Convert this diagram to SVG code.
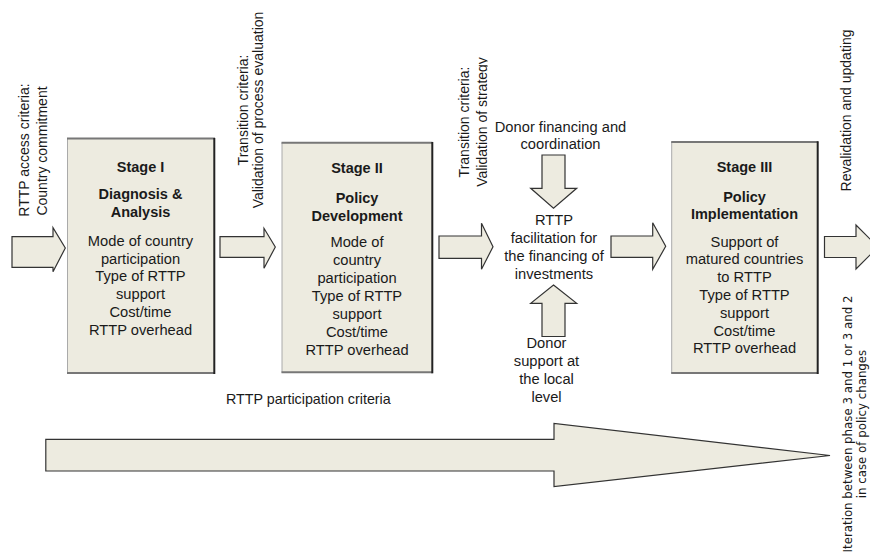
<svg xmlns="http://www.w3.org/2000/svg" width="870" height="556" viewBox="0 0 870 556">
<style>
.box{fill:#EDEBE0;stroke:none}
.bt{stroke:#777;stroke-width:2;fill:none}
.br{stroke:#222;stroke-width:2;fill:none}
.bl{stroke:#aaa;stroke-width:1;fill:none}
.arr{fill:#EDEBE0;stroke:#333;stroke-width:1.2;stroke-linejoin:miter}
text{font-family:"Liberation Sans",Arial,sans-serif;fill:#1a1a1a}
.h{font-size:14.5px;font-weight:bold;text-anchor:middle}
.b{font-size:14.7px;text-anchor:middle}
.r{font-size:14px;text-anchor:middle}
.it{font-family:"DejaVu Sans",Verdana,sans-serif;font-size:11.8px;text-anchor:middle}
</style>
<defs>
<clipPath id="clipStrat"><rect x="0" y="0" width="487.5" height="556"/></clipPath>
</defs>
<rect width="870" height="556" fill="#fff"/>

<g id="connectors">
<polygon class="arr" points="12,236.7 53,236.7 53,227.7 65.3,248 53,271.7 53,267.3 12,267.3"/>
<polygon class="arr" points="220,236.7 264,236.7 264,228.3 275.3,247 264,268.3 264,257.3 220,257.3"/>
<polygon class="arr" points="439,236 481.5,236 481.5,223.3 493,246.7 481.5,269.3 481.5,258.3 439,258.3"/>
<polygon class="arr" points="611,236 652.7,236 652.7,222.7 665.7,246.3 652.7,269.3 652.7,257.3 611,257.3"/>
<polygon class="arr" points="824.5,236.5 856,236.5 856,225 878,247 856,269 856,257.5 824.5,257.5"/>
<polygon class="arr" points="542,155 565,155 565,188.3 576.7,188.3 553.5,208.3 530.7,188.3 542,188.3"/>
<polygon class="arr" points="553.5,285 576.7,303.3 565,303.3 565,336.5 542,336.5 542,303.3 530.7,303.3"/>
<polygon class="arr" points="45.8,439.3 554,439.3 554,423.3 830,455.5 554,486.7 554,471 45.8,471"/>
</g>

<g id="stage1">
<rect class="box" x="67.5" y="138.5" width="147" height="235"/>
<line class="bl" x1="67.5" y1="138.5" x2="67.5" y2="373.5"/>
<line class="bt" x1="67" y1="138.5" x2="215" y2="138.5"/>
<line class="bt" x1="67" y1="373" x2="215" y2="373"/>
<line class="br" x1="214.3" y1="138" x2="214.3" y2="374"/>
<text class="h" x="140.5" y="171.7">Stage I</text>
<text class="h" x="140.5" y="199.3">Diagnosis &amp;</text>
<text class="h" x="140.5" y="217.3">Analysis</text>
<text class="b" x="140.5" y="245.7">Mode of country</text>
<text class="b" x="140.5" y="263.5">participation</text>
<text class="b" x="140.5" y="281.3">Type of RTTP</text>
<text class="b" x="140.5" y="299.1">support</text>
<text class="b" x="140.5" y="316.9">Cost/time</text>
<text class="b" x="140.5" y="334.7">RTTP overhead</text>
</g>

<g id="stage2">
<rect class="box" x="282" y="142.7" width="150" height="230"/>
<line class="bl" x1="282" y1="142.7" x2="282" y2="372.7"/>
<line class="bt" x1="281.5" y1="142.7" x2="432.5" y2="142.7"/>
<line class="bt" x1="281.5" y1="372.3" x2="432.5" y2="372.3"/>
<line class="br" x1="432.3" y1="142" x2="432.3" y2="373.3"/>
<text class="h" x="357" y="173">Stage II</text>
<text class="h" x="357" y="202.7">Policy</text>
<text class="h" x="357" y="220.7">Development</text>
<text class="b" x="357" y="247.3">Mode of</text>
<text class="b" x="357" y="265.1">country</text>
<text class="b" x="357" y="282.9">participation</text>
<text class="b" x="357" y="300.8">Type of RTTP</text>
<text class="b" x="357" y="318.7">support</text>
<text class="b" x="357" y="336.6">Cost/time</text>
<text class="b" x="357" y="354.5">RTTP overhead</text>
</g>

<g id="financing">
<text class="b" x="554" y="225">RTTP</text>
<text class="b" x="554" y="243">facilitation for</text>
<text class="b" x="554" y="261">the financing of</text>
<text class="b" x="554" y="279.3">investments</text>
</g>

<g id="donor-financing">
<text class="b" x="560.5" y="131.7">Donor financing and</text>
<text class="b" x="560.5" y="149.3">coordination</text>
</g>

<g id="donor-support">
<text class="b" x="546.5" y="348.3">Donor</text>
<text class="b" x="546.5" y="366">support at</text>
<text class="b" x="546.5" y="383.8">the local</text>
<text class="b" x="546.5" y="401.6">level</text>
</g>

<g id="stage3">
<rect class="box" x="671.7" y="142" width="146" height="231.3"/>
<line class="bl" x1="671.7" y1="142" x2="671.7" y2="373.3"/>
<line class="bt" x1="671.2" y1="142" x2="818.2" y2="142"/>
<line class="bt" x1="671.2" y1="373" x2="818.2" y2="373"/>
<line class="br" x1="817.7" y1="141.3" x2="817.7" y2="374"/>
<text class="h" x="744.5" y="171.7">Stage III</text>
<text class="h" x="744.5" y="201.7">Policy</text>
<text class="h" x="744.5" y="219.3">Implementation</text>
<text class="b" x="744.5" y="246.7">Support of</text>
<text class="b" x="744.5" y="264.4">matured countries</text>
<text class="b" x="744.5" y="282.1">to RTTP</text>
<text class="b" x="744.5" y="299.9">Type of RTTP</text>
<text class="b" x="744.5" y="317.7">support</text>
<text class="b" x="744.5" y="335.5">Cost/time</text>
<text class="b" x="744.5" y="353.3">RTTP overhead</text>
</g>

<g id="access-criteria">
<text class="r" transform="translate(28.5,150) rotate(-90)">RTTP access criteria:</text>
<text class="r" transform="translate(47,151) rotate(-90)">Country commitment</text>
</g>

<g id="transition-1">
<text class="r" transform="translate(247.5,110) rotate(-90)">Transition criteria:</text>
<text class="r" transform="translate(263,110) rotate(-90)">Validation of process evaluation</text>
</g>

<g id="transition-2">
<text class="r" transform="translate(468.5,122) rotate(-90)">Transition criteria:</text>
<g clip-path="url(#clipStrat)">
<text class="r" transform="translate(487,122) rotate(-90)">Validation of strategy</text>
</g>
</g>

<g id="revalidation">
<text class="r" transform="translate(850.5,110.5) rotate(-90)">Revalidation and updating</text>
</g>

<g id="iteration">
<text class="it" transform="translate(852,424) rotate(-90)">Iteration between phase 3 and 1 or 3 and 2</text>
<text class="it" transform="translate(866,424) rotate(-90)">in case of policy changes</text>
</g>

<g id="participation-criteria">
<text x="226" y="404" style="font-size:14.3px">RTTP participation criteria</text>
</g>
</svg>
